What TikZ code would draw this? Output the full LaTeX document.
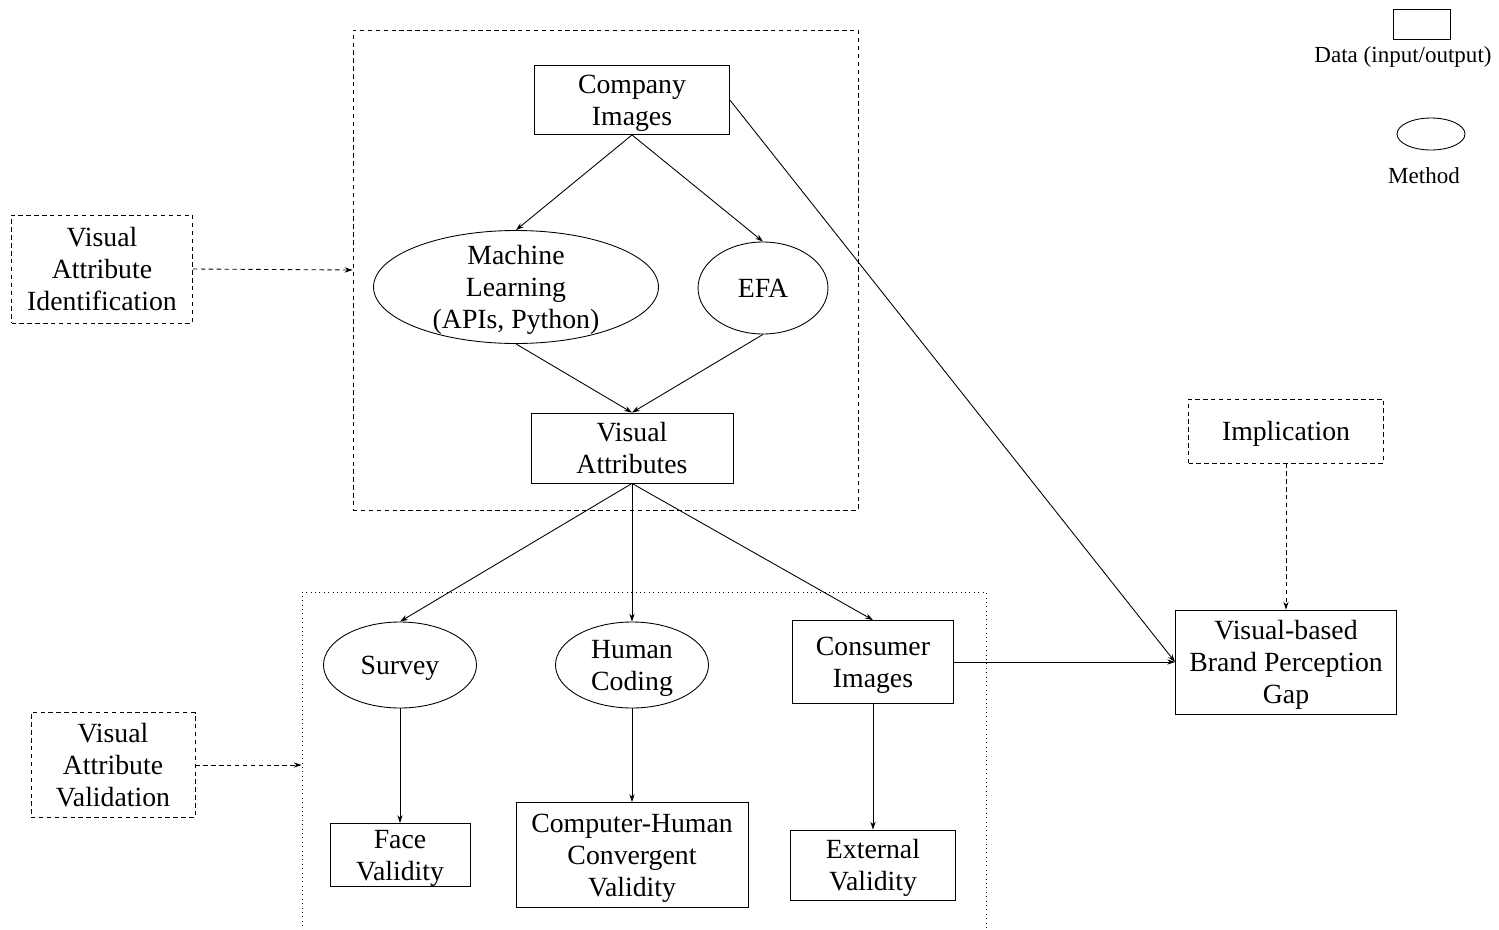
\documentclass[tikz,border=0pt]{standalone}
\usepackage{fontspec}
\setmainfont{Liberation Serif}
\usetikzlibrary{arrows.meta}
\usetikzlibrary{shapes.geometric}
\tikzset{data/.style = {draw, rectangle, align=center, inner sep=0pt, text depth=0pt,
                        font=\fontsize{15.8}{18.2}\selectfont}}
\tikzset{method/.style = {draw, ellipse, inner sep=0pt}}
\tikzset{stage/.style = {draw, rectangle, dash pattern=on 2.5pt off 2pt,
                         align=center, inner sep=0pt, text depth=0pt,
                         font=\fontsize{15.8}{18.2}\selectfont}}
\tikzset{flow/.style = {-{Stealth[length=4.5pt,width=3pt]}}}
\tikzset{link/.style = {flow, dash pattern=on 2.5pt off 2pt}}
\tikzset{every label/.style = {align=center, text depth=0pt,
                               font=\fontsize{15.8}{18.2}\selectfont}}
\tikzset{every picture/.style={
    every path/.style={line width=0.5pt},
}}

\begin{document}
\begin{tikzpicture}[x=0.02cm, y=-0.02cm]
      \useasboundingbox (0,0) rectangle (1499,930);
      % areas
      \node[draw, dash pattern=on 2.5pt off 2pt, minimum width=10.1cm,
            minimum height=9.6cm] (idarea) at (605.5,270) {};
      \node[draw, dotted, minimum width=13.68cm,
            minimum height=6.92cm] (valarea) at (644,765) {};
      % identification
      \node[data, minimum width=3.9cm, minimum height=1.38cm] (ci) at (632,100) {Company\\Images};
      \node[method, minimum width=5.7cm, minimum height=2.26cm,
            label=center:{Machine\\Learning\\(APIs, Python)}] (ml) at (516,287) {};
      \node[method, minimum width=2.6cm, minimum height=1.84cm,
            label=center:EFA] (efa) at (763,288) {};
      \node[data, minimum width=4.04cm, minimum height=1.4cm] (va) at (632,448) {Visual\\Attributes};
      % validation
      \node[method, minimum width=3.06cm, minimum height=1.72cm,
            label=center:Survey] (sv) at (400,665) {};
      \node[method, minimum width=3.06cm, minimum height=1.72cm,
            label=center:{Human\\Coding}] (hc) at (632,665) {};
      \node[data, minimum width=3.22cm, minimum height=1.66cm] (cons) at (873,662) {Consumer\\Images};
      \node[data, minimum width=2.8cm, minimum height=1.26cm] (fv) at (400,855) {Face\\Validity};
      \node[data, minimum width=4.64cm, minimum height=2.1cm] (chcv) at (632,855) {Computer-Human\\Convergent\\Validity};
      \node[data, minimum width=3.3cm, minimum height=1.4cm] (ev) at (873,865) {External\\Validity};
      % stages
      \node[stage, minimum width=3.62cm, minimum height=2.16cm] (vai) at (102,269) {Visual\\Attribute\\Identification};
      \node[stage, minimum width=3.28cm, minimum height=2.1cm] (vav) at (113,765) {Visual\\Attribute\\Validation};
      \node[stage, minimum width=3.9cm, minimum height=1.28cm] (imp) at (1286,431) {Implication};
      \node[data, minimum width=4.42cm, minimum height=2.08cm] (gap) at (1286,662) {Visual-based\\Brand Perception\\Gap};
      % legend
      \node[draw, minimum width=1.14cm, minimum height=0.6cm] (lgdata) at (1422,24) {};
      \node[text depth=0pt, font=\fontsize{13.1}{15}\selectfont] (lgdatatext) at (1403,55) {Data (input/output)};
      \node[method, minimum width=1.36cm, minimum height=0.64cm] (lgmethod) at (1431,134) {};
      \node[font=\fontsize{13.1}{15}\selectfont] (lgmethodtext) at (1424,176) {Method};
      % connectors
      \draw[flow] (ci.south) -- (ml.north);
      \draw[flow] (ci.south) -- (efa.north);
      \draw[flow] (ml.south) -- (va.north);
      \draw[flow] (efa.south) -- (va.north);
      \draw[flow] (va.south) -- (sv.north);
      \draw[flow] (va.south) -- (hc.north);
      \draw[flow] (va.south) -- (cons.north);
      \draw[flow] (sv.south) -- (fv.north);
      \draw[flow] (hc.south) -- (chcv.north);
      \draw[flow] (cons.south) -- (ev.north);
      \draw[flow] (ci.east) -- (gap.west);
      \draw[flow] (cons.east) -- (gap.west);
      \draw[link] (vai.east) -- (idarea.west);
      \draw[link] (vav.east) -- (valarea.west);
      \draw[link] (imp.south) -- (gap.north);
    \end{tikzpicture}
\end{document}
